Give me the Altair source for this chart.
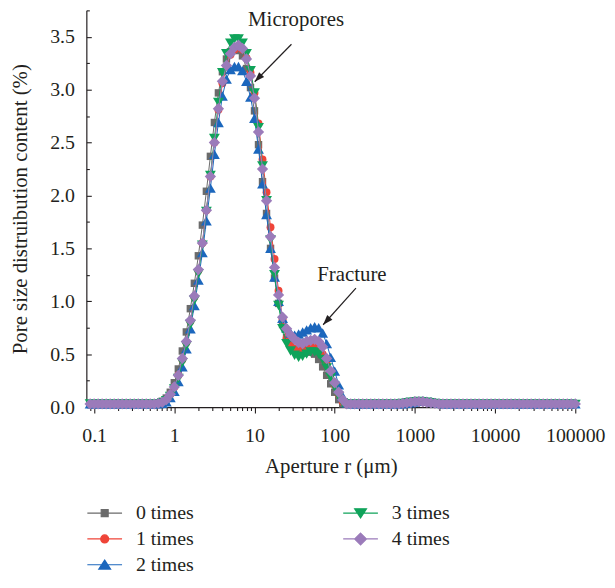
import altair as alt
import pandas as pd

# ---------------- data ----------------
aperture_um = [
    0.08913, 0.1, 0.1122, 0.1259, 0.1413, 0.1585, 0.1778, 0.1995, 0.2239, 0.2512, 0.2818,
    0.3162, 0.3548, 0.3981, 0.4467, 0.5012, 0.5623, 0.631, 0.7079, 0.7943, 0.8913,
    1, 1.122, 1.259, 1.413, 1.585, 1.778, 1.995, 2.239, 2.512, 2.818,
    3.162, 3.548, 3.981, 4.467, 5.012, 5.623, 6.31, 7.079, 7.943, 8.913,
    10, 11.22, 12.59, 14.13, 15.85, 17.78, 19.95, 22.39, 25.12, 28.18,
    31.62, 35.48, 39.81, 44.67, 50.12, 56.23, 63.1, 70.79, 79.43, 89.13,
    100, 112.2, 125.9, 141.3, 158.5, 177.8, 199.5, 223.9, 251.2, 281.8,
    316.2, 354.8, 398.1, 446.7, 501.2, 562.3, 631, 707.9, 794.3, 891.3,
    1000, 1122, 1259, 1413, 1585, 1778, 1995, 2239, 2512, 2818,
    3162, 3548, 3981, 4467, 5012, 5623, 6310, 7079, 7943, 8913,
    10000, 11220, 12590, 14130, 15850, 17780, 19950, 22390, 25120, 28180,
    31620, 35480, 39810, 44670, 50120, 56230, 63100, 70790, 79430, 89130,
    100000,
]

times_0 = [
    0.03, 0.03, 0.03, 0.03, 0.03, 0.03, 0.03, 0.03, 0.03, 0.03, 0.03, 0.03, 0.03, 0.03, 0.03, 0.03,
    0.03, 0.04, 0.055, 0.085, 0.14, 0.23, 0.36, 0.53, 0.71, 0.93, 1.17, 1.43, 1.72, 2.04,
    2.37, 2.69, 2.97, 3.17, 3.29, 3.36, 3.38, 3.37, 3.32, 3.20, 3.02, 2.80, 2.48, 2.13,
    1.83, 1.50, 1.22, 0.98, 0.78, 0.66, 0.59, 0.55, 0.52, 0.51, 0.52, 0.52, 0.50, 0.45,
    0.38, 0.30, 0.22, 0.14, 0.07, 0.03, 0.03,
    0.03, 0.03, 0.03, 0.03, 0.03, 0.03, 0.03, 0.03, 0.03, 0.03, 0.03, 0.03, 0.03,
    0.035, 0.04, 0.045, 0.05, 0.052, 0.05, 0.045, 0.04, 0.035,
    0.03, 0.03, 0.03, 0.03, 0.03, 0.03, 0.03, 0.03, 0.03, 0.03, 0.03,
    0.03, 0.03, 0.03, 0.03, 0.03, 0.03, 0.03, 0.03, 0.03, 0.03, 0.03, 0.03,
    0.03, 0.03, 0.03, 0.03, 0.03, 0.03, 0.03, 0.03, 0.03, 0.03, 0.03, 0.03,
]

times_1 = [
    0.03, 0.03, 0.03, 0.03, 0.03, 0.03, 0.03, 0.03, 0.03, 0.03, 0.03, 0.03, 0.03, 0.03, 0.03, 0.03,
    0.03, 0.035, 0.045, 0.07, 0.12, 0.19, 0.30, 0.45, 0.61, 0.81, 1.04, 1.29, 1.55, 1.86,
    2.18, 2.50, 2.81, 3.06, 3.22, 3.33, 3.38, 3.40, 3.38, 3.30, 3.16, 2.97, 2.68, 2.34,
    2.03, 1.70, 1.40, 1.10, 0.83, 0.65, 0.58, 0.55, 0.54, 0.55, 0.56, 0.57, 0.57, 0.55,
    0.50, 0.41, 0.31, 0.21, 0.12, 0.05, 0.03,
    0.03, 0.03, 0.03, 0.03, 0.03, 0.03, 0.03, 0.03, 0.03, 0.03, 0.03, 0.03, 0.03,
    0.035, 0.04, 0.045, 0.05, 0.052, 0.05, 0.045, 0.04, 0.035,
    0.03, 0.03, 0.03, 0.03, 0.03, 0.03, 0.03, 0.03, 0.03, 0.03, 0.03,
    0.03, 0.03, 0.03, 0.03, 0.03, 0.03, 0.03, 0.03, 0.03, 0.03, 0.03, 0.03,
    0.03, 0.03, 0.03, 0.03, 0.03, 0.03, 0.03, 0.03, 0.03, 0.03, 0.03, 0.03,
]

times_2 = [
    0.03, 0.03, 0.03, 0.03, 0.03, 0.03, 0.03, 0.03, 0.03, 0.03, 0.03, 0.03, 0.03, 0.03, 0.03, 0.03,
    0.03, 0.03, 0.035, 0.05, 0.09, 0.15, 0.24, 0.38, 0.55, 0.74, 0.96, 1.20, 1.46, 1.76,
    2.07, 2.39, 2.69, 2.94, 3.10, 3.19, 3.22, 3.22, 3.18, 3.08, 2.93, 2.73, 2.44, 2.11,
    1.82, 1.50, 1.23, 1.00, 0.84, 0.75, 0.70, 0.68, 0.69, 0.71, 0.73, 0.75, 0.76, 0.75,
    0.70, 0.60, 0.47, 0.34, 0.21, 0.10, 0.04,
    0.03, 0.03, 0.03, 0.03, 0.03, 0.03, 0.03, 0.03, 0.03, 0.03, 0.03, 0.03, 0.03, 0.03,
    0.035, 0.04, 0.048, 0.054, 0.058, 0.056, 0.05, 0.042, 0.035,
    0.03, 0.03, 0.03, 0.03, 0.03, 0.03, 0.03, 0.03, 0.03, 0.03,
    0.03, 0.03, 0.03, 0.03, 0.03, 0.03, 0.03, 0.03, 0.03, 0.03, 0.03, 0.03,
    0.03, 0.03, 0.03, 0.03, 0.03, 0.03, 0.03, 0.03, 0.03, 0.03, 0.03, 0.03,
]

times_3 = [
    0.03, 0.03, 0.03, 0.03, 0.03, 0.03, 0.03, 0.03, 0.03, 0.03, 0.03, 0.03, 0.03, 0.03, 0.03, 0.03,
    0.03, 0.03, 0.04, 0.06, 0.10, 0.17, 0.27, 0.42, 0.58, 0.78, 1.01, 1.26, 1.53, 1.85,
    2.19, 2.54, 2.88, 3.16, 3.34, 3.44, 3.48, 3.48, 3.44, 3.34, 3.18, 2.97, 2.64, 2.28,
    1.95, 1.58, 1.25, 0.96, 0.74, 0.60, 0.53, 0.49, 0.47, 0.48, 0.50, 0.52, 0.52, 0.50,
    0.45, 0.37, 0.28, 0.19, 0.10, 0.04, 0.03,
    0.03, 0.03, 0.03, 0.03, 0.03, 0.03, 0.03, 0.03, 0.03, 0.03, 0.03, 0.03, 0.03,
    0.035, 0.04, 0.045, 0.05, 0.052, 0.05, 0.045, 0.04, 0.035,
    0.03, 0.03, 0.03, 0.03, 0.03, 0.03, 0.03, 0.03, 0.03, 0.03, 0.03,
    0.03, 0.03, 0.03, 0.03, 0.03, 0.03, 0.03, 0.03, 0.03, 0.03, 0.03, 0.03,
    0.03, 0.03, 0.03, 0.03, 0.03, 0.03, 0.03, 0.03, 0.03, 0.03, 0.03, 0.025,
]

times_4 = [
    0.03, 0.03, 0.03, 0.03, 0.03, 0.03, 0.03, 0.03, 0.03, 0.03, 0.03, 0.03, 0.03, 0.03, 0.03, 0.03,
    0.03, 0.035, 0.045, 0.07, 0.12, 0.19, 0.30, 0.46, 0.62, 0.82, 1.05, 1.30, 1.55, 1.86,
    2.18, 2.50, 2.82, 3.08, 3.23, 3.34, 3.40, 3.42, 3.39, 3.29, 3.13, 2.92, 2.60, 2.25,
    1.95, 1.61, 1.32, 1.06, 0.85, 0.74, 0.68, 0.64, 0.61, 0.60, 0.62, 0.63, 0.64, 0.62,
    0.57, 0.46, 0.34, 0.23, 0.14, 0.07, 0.03,
    0.03, 0.03, 0.03, 0.03, 0.03, 0.03, 0.03, 0.03, 0.03, 0.03, 0.03, 0.03, 0.03,
    0.035, 0.04, 0.045, 0.05, 0.052, 0.05, 0.045, 0.04, 0.035,
    0.03, 0.03, 0.03, 0.03, 0.03, 0.03, 0.03, 0.03, 0.03, 0.03, 0.03,
    0.03, 0.03, 0.03, 0.03, 0.03, 0.03, 0.03, 0.03, 0.03, 0.03, 0.03, 0.03,
    0.03, 0.03, 0.03, 0.03, 0.03, 0.03, 0.03, 0.03, 0.03, 0.03, 0.03, 0.03,
]

series_names = ["0 times", "1 times", "2 times", "3 times", "4 times"]
series_values = [times_0, times_1, times_2, times_3, times_4]
series_colors = ["#6b6b6b", "#ef4438", "#1c67bd", "#0fa35a", "#9b7bba"]
series_shapes = ["square", "circle", "triangle-up", "triangle-down", "diamond"]
series_sizes = [56, 64, 120, 120, 130]

# legend symbols: a short line with the marker on it
legend_paths = [
    "M-1,0H1M-0.2,-0.2H0.2V0.2H-0.2Z",
    "M-1,0H1M0.23,0A0.23,0.23,0,1,1,-0.23,0A0.23,0.23,0,1,1,0.23,0Z",
    "M-1,0H1M0,-0.27L0.34,0.25H-0.34Z",
    "M-1,0H1M0,0.27L0.34,-0.25H-0.34Z",
    "M-1,0H1M0,-0.34L0.34,0L0,0.34L-0.34,0Z",
]

x_tick_values = [0.09, 0.1, 0.2, 0.3, 0.4, 0.5, 0.6, 0.7, 0.8, 0.9,
                 1, 2, 3, 4, 5, 6, 7, 8, 9,
                 10, 20, 30, 40, 50, 60, 70, 80, 90,
                 100, 200, 300, 400, 500, 600, 700, 800, 900,
                 1000, 2000, 3000, 4000, 5000, 6000, 7000, 8000, 9000,
                 10000, 20000, 30000, 40000, 50000, 60000, 70000, 80000, 90000,
                 100000]
x_major = [0.1, 1, 10, 100, 1000, 10000, 100000]
y_tick_values = [0, 0.25, 0.5, 0.75, 1.0, 1.25, 1.5, 1.75, 2.0, 2.25, 2.5, 2.75,
                 3.0, 3.25, 3.5, 3.75]

ann_text = ["Micropores", "Fracture"]
ann_x = [33, 164]
ann_y = [3.66, 1.247]
arrow_x_start = [28.9, 184]
arrow_y_start = [3.43, 1.125]
arrow_x_end = [10.06, 71.8]
arrow_y_end = [3.075, 0.778]
arrow_angle = [224, 222]

# ---------------- tables ----------------
rows = []
for name, vals in zip(series_names, series_values):
    for xv, yv in zip(aperture_um, vals):
        rows.append({"r": xv, "content": yv, "series": name})
df = pd.DataFrame(rows)

ann_df = pd.DataFrame({"r": ann_x, "content": ann_y, "label": ann_text})
arrow_df = pd.DataFrame({"r": arrow_x_start, "content": arrow_y_start,
                         "r2": arrow_x_end, "content2": arrow_y_end,
                         "angle": arrow_angle})

FONT = "Liberation Serif"
INK = "#231f20"

major_list = "[" + ",".join(str(v) for v in x_major) + "]"
x_axis = alt.Axis(
    values=x_tick_values,
    labelExpr=f"indexof({major_list}, datum.value) >= 0 ? (datum.value < 1 ? '0.1' : format(datum.value, 'd')) : ''",
    tickSize={"expr": f"indexof({major_list}, datum.value) >= 0 ? 6 : 3.5"},
    labelPadding=13,
    labelOverlap=False,
    labelFlush=False,
    title="Aperture r (μm)",
    titlePadding=10,
)
y_axis = alt.Axis(
    values=y_tick_values,
    labelExpr="datum.value % 0.5 == 0 ? format(datum.value, '.1f') : ''",
    tickSize={"expr": "datum.value % 0.5 == 0 ? -5 : -3"},
    labelPadding=17,
    labelOverlap=False,
    labelFlush=False,
    title="Pore size distruibution content (%)",
    titlePadding=19,
)

x_scale = alt.Scale(type="log", domain=[0.08, 100000], nice=False)
y_scale = alt.Scale(domain=[0, 3.75], nice=False, zero=False)

x_enc = alt.X("r:Q", scale=x_scale, axis=x_axis)
y_enc = alt.Y("content:Q", scale=y_scale, axis=y_axis)

base = alt.Chart(df)
layers = []
for name, color, shape, size in zip(series_names, series_colors, series_shapes, series_sizes):
    sub = base.transform_filter(alt.datum.series == name)
    layers.append(sub.mark_line(color=color, strokeWidth=1).encode(x=x_enc, y=y_enc))
    layers.append(sub.mark_point(shape=shape, filled=True, size=size, color=color,
                                 opacity=1, strokeWidth=0).encode(x=x_enc, y=y_enc))

legend_def = alt.Legend(
    title=None, orient="none", direction="vertical", legendX=0, legendY=497, columns=2,
    columnPadding=149, rowPadding=6, clipHeight=20, symbolSize=1225,
    symbolStrokeWidth=1.2, labelFont=FONT, labelFontSize=20, labelColor=INK,
    labelOffset=13, padding=0,
)
legend_layer = base.transform_filter("datum.content < 0").mark_point(
    filled=True, opacity=1, strokeWidth=1.2
).encode(
    fill=alt.Fill("series:N", scale=alt.Scale(domain=series_names, range=series_colors), legend=legend_def),
    stroke=alt.Stroke("series:N", scale=alt.Scale(domain=series_names, range=series_colors), legend=legend_def),
    shape=alt.Shape("series:N", scale=alt.Scale(domain=series_names, range=legend_paths), legend=legend_def),
)

arrow_rule = alt.Chart(arrow_df).mark_rule(color=INK, strokeWidth=1.2).encode(
    x=x_enc, y=y_enc, x2="r2:Q", y2="content2:Q"
)
arrow_head = alt.Chart(arrow_df).mark_point(
    shape="M0,0L-0.35,1L0.35,1Z", filled=True, color=INK, size=400, opacity=1, strokeWidth=0
).encode(
    x=alt.X("r2:Q", scale=x_scale, axis=x_axis),
    y=alt.Y("content2:Q", scale=y_scale, axis=y_axis),
    angle=alt.Angle("angle:Q", scale=None),
)
ann_text_layer = alt.Chart(ann_df).mark_text(
    font=FONT, fontSize=21, color=INK, align="center", baseline="middle"
).encode(x=x_enc, y=y_enc, text="label:N")

chart = alt.layer(*layers, legend_layer, arrow_rule, arrow_head, ann_text_layer).properties(
    width=493, height=400,
    autosize=alt.AutoSizeParams(type="none"),
    padding={"left": 79, "top": 0, "right": 32, "bottom": 172},
).configure_view(stroke=None).configure_axis(
    labelFont=FONT, labelFontSize=20, labelColor=INK,
    titleFont=FONT, titleFontSize=21, titleFontWeight="normal", titleColor=INK,
    domainColor=INK, tickColor=INK, domainWidth=1.2, tickWidth=1.1, grid=False,
)

chart.save("out.html", embed_options={"renderer": "svg", "actions": False})
